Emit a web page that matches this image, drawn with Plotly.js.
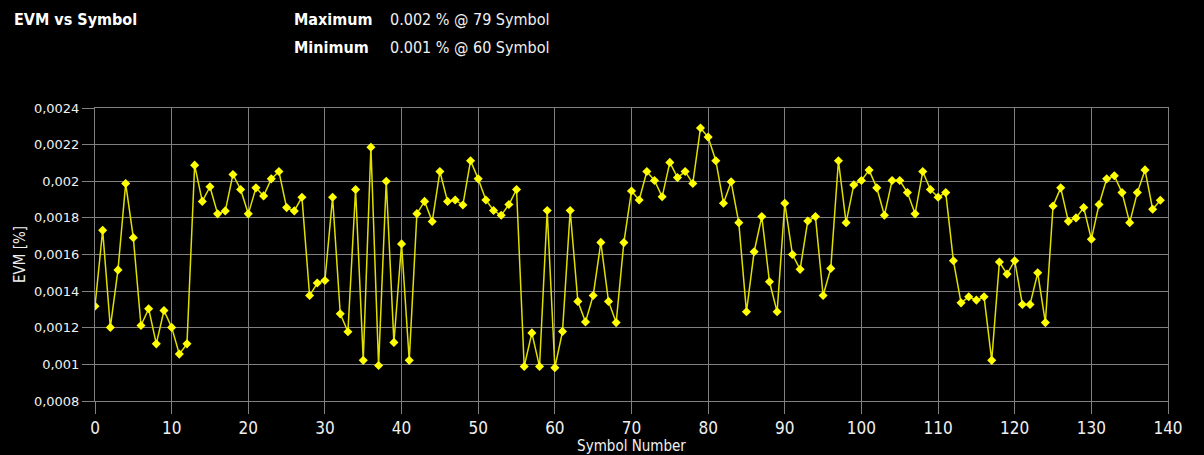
<!DOCTYPE html>
<html>
<head>
<meta charset="utf-8">
<script src="https://cdn.plot.ly/plotly-3.0.1.min.js"></script>
<style>
html,body{margin:0;padding:0;background:#000;}
#chart{width:1204px;height:455px;}
</style>
</head>
<body>
<div id="chart"></div>
<script>
const symbols = Array.from({length: 140}, (_, i) => i);
const evm = [
 0.001318,0.001732,0.001202,0.001516,0.001988,0.001692,0.001212,0.001304,0.001112,0.001294,
 0.001202,0.001056,0.001112,0.002088,0.001890,0.001970,0.001822,0.001838,0.002037,0.001955,
 0.001822,0.001964,0.001920,0.002013,0.002053,0.001856,0.001838,0.001913,0.001376,0.001444,
 0.001458,0.001913,0.001276,0.001178,0.001955,0.001022,0.002186,0.000994,0.002000,0.001120,
 0.001658,0.001022,0.001823,0.001890,0.001780,0.002053,0.001890,0.001898,0.001870,0.002112,
 0.002013,0.001898,0.001840,0.001814,0.001873,0.001955,0.000988,0.001172,0.000988,0.001840,
 0.000982,0.001180,0.001840,0.001344,0.001232,0.001376,0.001666,0.001344,0.001228,0.001665,
 0.001947,0.001898,0.002053,0.002004,0.001915,0.002103,0.002020,0.002053,0.001988,0.002291,
 0.002241,0.002112,0.001880,0.001997,0.001774,0.001287,0.001615,0.001807,0.001451,0.001287,
 0.001880,0.001600,0.001519,0.001783,0.001807,0.001376,0.001524,0.002112,0.001774,0.001980,
 0.002004,0.002061,0.001964,0.001814,0.002004,0.002004,0.001938,0.001822,0.002053,0.001955,
 0.001913,0.001938,0.001566,0.001336,0.001369,0.001351,0.001369,0.001022,0.001559,0.001493,
 0.001566,0.001327,0.001327,0.001500,0.001228,0.001865,0.001964,0.001781,0.001800,0.001856,
 0.001683,0.001873,0.002013,0.002030,0.001938,0.001774,0.001938,0.002062,0.001847,0.001896
];
const xTickVals = [0,10,20,30,40,50,60,70,80,90,100,110,120,130,140];
const xTickText = ["0","10","20","30","40","50","60","70","80","90","100","110","120","130","140"];
const yTickVals = [0.0008,0.001,0.0012,0.0014,0.0016,0.0018,0.002,0.0022,0.0024];
const yTickText = ["0,0008","0,001","0,0012","0,0014","0,0016","0,0018","0,002","0,0022","0,0024"];
const chartTitle = "EVM vs Symbol";
const maxLabel = "Maximum", maxText = "0.002 % @ 79 Symbol";
const minLabel = "Minimum", minText = "0.001 % @ 60 Symbol";

const narrow = "'Liberation Sans Narrow', 'Arial Narrow', 'DejaVu Sans Condensed', sans-serif";
const grid = "#808080";

const trace = {
  x: symbols, y: evm, type: "scatter", mode: "lines+markers",
  line: {color: "#e0e000", width: 1.5},
  marker: {symbol: "diamond", size: 7, color: "#ffff00"},
  hoverinfo: "skip"
};

const layout = {
  width: 1204, height: 455,
  paper_bgcolor: "#000", plot_bgcolor: "#000",
  margin: {l: 95, r: 36, t: 108, b: 54},
  showlegend: false,
  xaxis: {
    range: [0, 140], tickvals: xTickVals, ticktext: xTickText,
    showgrid: true, gridcolor: grid, gridwidth: 1,
    showline: true, linecolor: grid, linewidth: 1, mirror: true,
    ticks: "outside", ticklen: 12, tickcolor: grid, tickwidth: 1,
    tickfont: {family: narrow, size: 17, color: "#f0f0f0"},
    zeroline: false,
    title: {text: "Symbol Number", font: {family: narrow, size: 15, color: "#f0f0f0"}, standoff: 2}
  },
  yaxis: {
    range: [0.0008, 0.0024], tickvals: yTickVals, ticktext: yTickText,
    showgrid: true, gridcolor: grid, gridwidth: 1,
    showline: true, linecolor: grid, linewidth: 1, mirror: true,
    ticks: "outside", ticklen: 12, tickcolor: grid, tickwidth: 1,
    tickfont: {family: "'DejaVu Sans', sans-serif", size: 13, color: "#f0f0f0"},
    zeroline: false,
    title: {text: "EVM [%]", font: {family: narrow, size: 15, color: "#f0f0f0"}, standoff: 4}
  },
  annotations: [
    {text: "<b>" + chartTitle + "</b>", xref: "paper", yref: "paper", x: -95/1073, y: 1 + 88/293,
     xanchor: "left", yanchor: "middle", showarrow: false, xshift: 12,
     font: {family: narrow, size: 16, color: "#ffffff"}},
    {text: "<b>" + maxLabel + "</b>", xref: "paper", yref: "paper", x: (292-95)/1073, y: 1 + 88/293,
     xanchor: "left", yanchor: "middle", showarrow: false,
     font: {family: narrow, size: 16, color: "#ffffff"}},
    {text: maxText, xref: "paper", yref: "paper", x: (388-95)/1073, y: 1 + 88/293,
     xanchor: "left", yanchor: "middle", showarrow: false,
     font: {family: narrow, size: 16, color: "#f0f0f0"}},
    {text: "<b>" + minLabel + "</b>", xref: "paper", yref: "paper", x: (292-95)/1073, y: 1 + 61/293,
     xanchor: "left", yanchor: "middle", showarrow: false,
     font: {family: narrow, size: 16, color: "#ffffff"}},
    {text: minText, xref: "paper", yref: "paper", x: (388-95)/1073, y: 1 + 61/293,
     xanchor: "left", yanchor: "middle", showarrow: false,
     font: {family: narrow, size: 16, color: "#f0f0f0"}}
  ]
};

Plotly.newPlot("chart", [trace], layout, {displayModeBar: false, staticPlot: true});
</script>
</body>
</html>
